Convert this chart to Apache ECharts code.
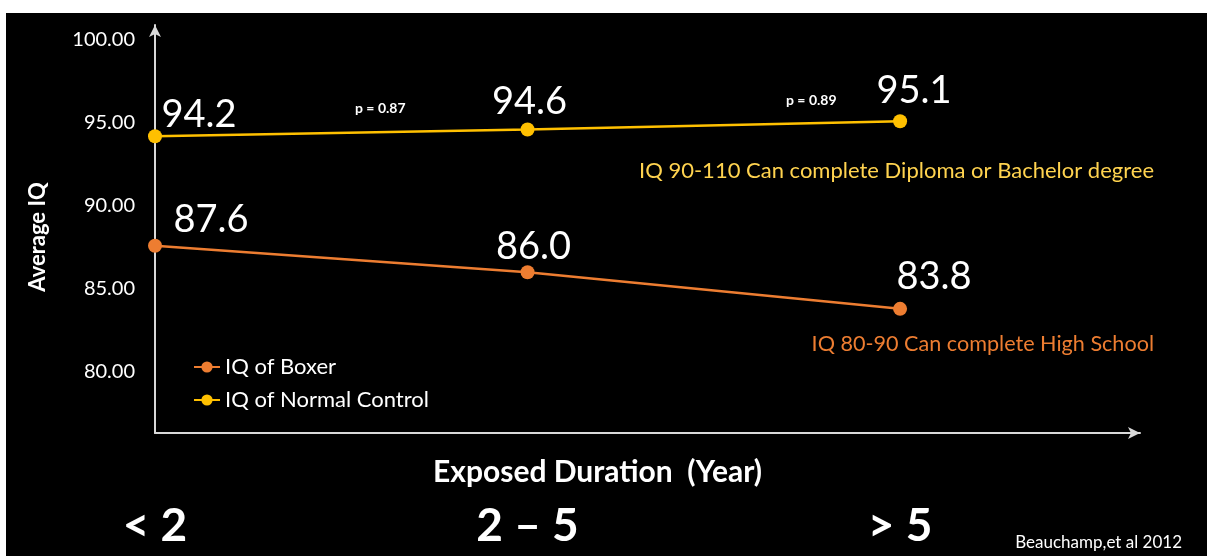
<!DOCTYPE html>
<html><head><meta charset="utf-8">
<script src="https://cdn.jsdelivr.net/npm/echarts@6/dist/echarts.min.js"></script>
<style>
html,body{margin:0;padding:0;background:#fff;width:1212px;height:556px;overflow:hidden;}
#c{position:absolute;left:6px;top:13px;width:1201px;height:543px;background:#000;}
</style></head><body>
<div id="c"></div>
<script>
var categories = ['< 2', '2 – 5', '> 5'];
var boxerIQ = [87.6, 86.0, 83.8];
var controlIQ = [94.2, 94.6, 95.1];
var yTicks = [80, 85, 90, 95, 100];
var pValues = ['p = 0.87', 'p = 0.89'];

var FONT = 'Lato, "Open Sans", sans-serif';
var chart = echarts.init(document.getElementById('c'), null, {renderer: 'canvas'});

function pts(arr, offs) {
  return arr.map(function (v, i) {
    return {value: [i, v], label: {offset: offs[i]}};
  });
}
var boxerOffs = [[56, 8], [6, 8], [34, 2]];
var ctrlOffs = [[44, 13], [2, 6], [14, 3]];

var option = {
  backgroundColor: '#000',
  animation: false,
  grid: {left: 149, right: 67, top: 12, bottom: 123, containLabel: false, outerBoundsMode: 'none'},
  legend: {
    left: 182, top: 338, orient: 'vertical', itemGap: 11,
    itemWidth: 26, itemHeight: 14,
    textStyle: {color: '#fff', fontSize: 22, fontFamily: FONT},
    data: ['IQ of Boxer', 'IQ of Normal Control']
  },
  xAxis: {
    type: 'value', min: 0, max: 2.644, interval: 1,
    splitLine: {show: false},
    axisTick: {show: false},
    axisLine: {lineStyle: {color: '#d9d9d9', width: 2}, symbol: ['none', 'arrow'], symbolSize: [9, 12]},
    axisLabel: {
      showMaxLabel: false, margin: 70,
      color: '#fff', fontSize: 46, fontWeight: 'bold', fontFamily: FONT,
      formatter: function (v) { return categories[Math.round(v)] || ''; }
    },
    name: 'Exposed Duration  (Year)', nameLocation: 'middle', nameGap: 24, nameMoveOverlap: false,
    nameTextStyle: {color: '#fff', fontSize: 30, fontWeight: 'bold', fontFamily: FONT, padding: [0, 100, 0, 0]}
  },
  yAxis: {
    type: 'value', min: 76.32, max: 100.9,
    splitLine: {show: false},
    axisTick: {show: false},
    axisLine: {show: true, lineStyle: {color: '#d9d9d9', width: 2}, symbol: ['none', 'arrow'], symbolSize: [9, 12]},
    axisLabel: {
      customValues: yTicks, margin: 20,
      color: '#fff', fontSize: 20, fontFamily: FONT,
      formatter: function (v) { return v.toFixed(2); }
    },
    name: 'Average IQ', nameLocation: 'middle', nameGap: 106, nameRotate: 90, nameMoveOverlap: false,
    nameTextStyle: {color: '#fff', fontSize: 22, fontWeight: 'bold', fontFamily: FONT, padding: [0, 16, 0, 0]}
  },
  series: [
    {
      name: 'IQ of Boxer', type: 'line', data: pts(boxerIQ, boxerOffs),
      color: '#ED7D31', symbol: 'circle', symbolSize: 14,
      lineStyle: {width: 2.5},
      label: {show: true, position: 'top', distance: 8, color: '#fff', fontSize: 38, fontFamily: FONT,
        formatter: function (p) { return p.value[1].toFixed(1); }}
    },
    {
      name: 'IQ of Normal Control', type: 'line', data: pts(controlIQ, ctrlOffs),
      color: '#FFC000', symbol: 'circle', symbolSize: 14,
      lineStyle: {width: 2.5},
      label: {show: true, position: 'top', distance: 8, color: '#fff', fontSize: 38, fontFamily: FONT,
        formatter: function (p) { return p.value[1].toFixed(1); }}
    }
  ],
  graphic: [
    {type: 'text', left: 349, top: 88, style: {text: pValues[0], fill: '#fff', font: 'bold 14px ' + FONT}},
    {type: 'text', left: 780, top: 80, style: {text: pValues[1], fill: '#fff', font: 'bold 14px ' + FONT}},
    {type: 'text', right: 53, top: 147, style: {text: 'IQ 90-110 Can complete Diploma or Bachelor degree', fill: '#FFD34F', font: '22px ' + FONT}},
    {type: 'text', right: 53, top: 320, style: {text: 'IQ 80-90 Can complete High School', fill: '#ED7D31', font: '21.6px ' + FONT}},
    {type: 'text', right: 25, top: 521, style: {text: 'Beauchamp,et al 2012', fill: '#fff', font: '17px ' + FONT}}
  ]
};
chart.setOption(option);
</script>
</body></html>
